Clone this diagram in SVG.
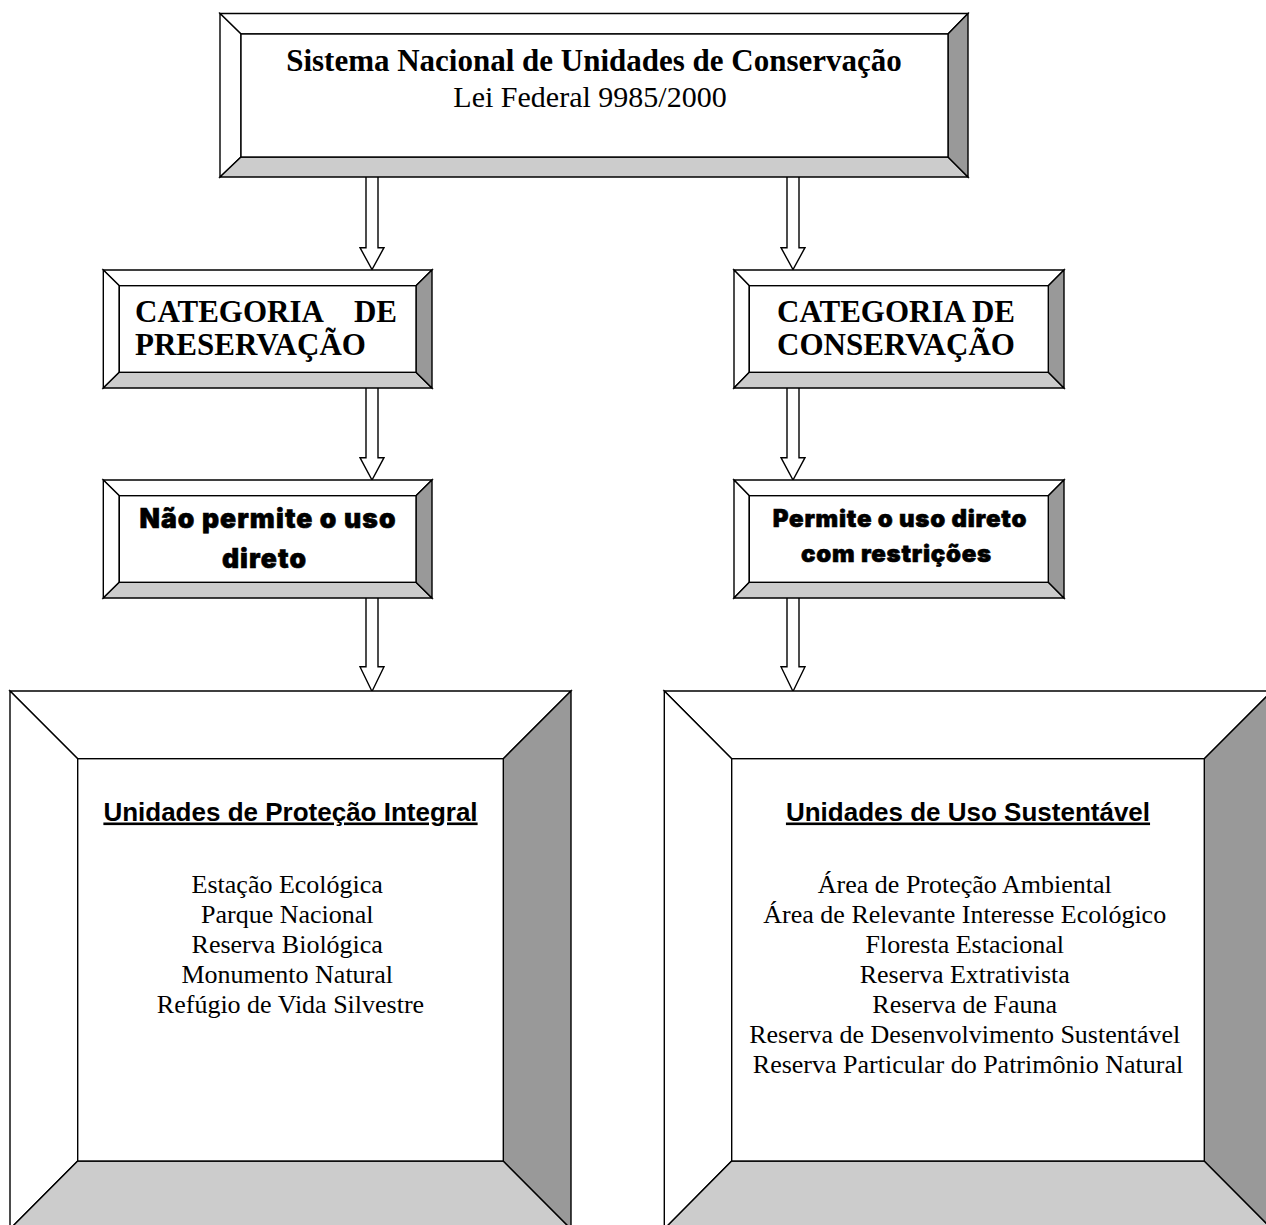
<svg xmlns="http://www.w3.org/2000/svg" width="1266" height="1225" viewBox="0 0 1266 1225">
<defs>
<style>
.ln{stroke:#000;stroke-width:1.4;stroke-linejoin:miter}
.w{fill:#fff}
.lg{fill:#cccccc}
.dg{fill:#999999}
.tb{font-family:'Liberation Serif','Times New Roman',serif;font-weight:bold;font-size:31px;fill:#000}
.tr{font-family:'Liberation Serif','Times New Roman',serif;font-size:30px;fill:#000}
.blk{font-family:'Arial Black','Inter','Roboto','Lato',sans-serif;font-weight:900;fill:#000;stroke:#000;stroke-width:0.6}
.hd{font-family:'Liberation Sans',Arial,sans-serif;font-weight:bold;font-size:26px;fill:#000;text-decoration:underline}
.it{font-family:'Liberation Serif','Times New Roman',serif;font-size:26px;fill:#000}
.arr{fill:#fff;stroke:#000;stroke-width:1.4;stroke-linejoin:miter}
</style>
</defs>
<rect width="1266" height="1225" fill="#fff"/>

<g id="connectors">
<path class="arr" d="M366,177 V247.7 H360 L372,269.5 L384,247.7 H378 V177"/>
<path class="arr" d="M787,177 V247.7 H781 L793,269.5 L805,247.7 H799 V177"/>
<path class="arr" d="M366,388 V457.7 H360 L372,480 L384,457.7 H378 V388"/>
<path class="arr" d="M787,388 V457.7 H781 L793,480 L805,457.7 H799 V388"/>
<path class="arr" d="M366,598 V666.7 H360 L372,691.5 L384,666.7 H378 V598"/>
<path class="arr" d="M787,598 V666.7 H781 L793,691.5 L805,666.7 H799 V598"/>
</g>

<g id="sistema">
<polygon class="ln w" points="220,13.5 968,13.5 948,34 241,34"/>
<polygon class="ln w" points="220,13.5 241,34 241,157 220,177"/>
<polygon class="ln lg" points="220,177 241,157 948,157 968,177"/>
<polygon class="ln dg" points="968,13.5 968,177 948,157 948,34"/>
<rect class="ln w" x="241" y="34" width="707" height="123"/>
<text class="tb" x="594" y="71" text-anchor="middle">Sistema Nacional de Unidades de Conservação</text>
<text class="tr" x="590" y="106.7" text-anchor="middle">Lei Federal 9985/2000</text>
</g>

<g id="cat-preservacao">
<polygon class="ln w" points="103.3,270 432,270 416,285.7 119.3,285.7"/>
<polygon class="ln w" points="103.3,270 119.3,285.7 119.3,372.3 103.3,388"/>
<polygon class="ln lg" points="103.3,388 119.3,372.3 416,372.3 432,388"/>
<polygon class="ln dg" points="432,270 432,388 416,372.3 416,285.7"/>
<rect class="ln w" x="119.3" y="285.7" width="296.7" height="86.6"/>
<text class="tb" y="321.7"><tspan x="135">CATEGORIA</tspan><tspan x="397" text-anchor="end">DE</tspan></text>
<text class="tb" x="135" y="355">PRESERVAÇÃO</text>
</g>

<g id="cat-conservacao">
<polygon class="ln w" points="734,270 1064,270 1048.3,285.7 749.3,285.7"/>
<polygon class="ln w" points="734,270 749.3,285.7 749.3,372.3 734,388"/>
<polygon class="ln lg" points="734,388 749.3,372.3 1048.3,372.3 1064,388"/>
<polygon class="ln dg" points="1064,270 1064,388 1048.3,372.3 1048.3,285.7"/>
<rect class="ln w" x="749.3" y="285.7" width="299" height="86.6"/>
<text class="tb" x="896" y="321.7" text-anchor="middle">CATEGORIA DE</text>
<text class="tb" x="896" y="355" text-anchor="middle">CONSERVAÇÃO</text>
</g>

<g id="nao-permite">
<polygon class="ln w" points="103.3,480 432,480 416,495.7 119.3,495.7"/>
<polygon class="ln w" points="103.3,480 119.3,495.7 119.3,582.3 103.3,598"/>
<polygon class="ln lg" points="103.3,598 119.3,582.3 416,582.3 432,598"/>
<polygon class="ln dg" points="432,480 432,598 416,582.3 416,495.7"/>
<rect class="ln w" x="119.3" y="495.7" width="296.7" height="86.6"/>
<text class="blk" font-size="26.5" letter-spacing="1.1" x="268" y="528.3" text-anchor="middle">Não permite o uso</text>
<text class="blk" font-size="26.5" letter-spacing="1.1" x="264.5" y="568.3" text-anchor="middle">direto</text>
</g>

<g id="permite">
<polygon class="ln w" points="734,480 1064,480 1048.3,495.7 749.3,495.7"/>
<polygon class="ln w" points="734,480 749.3,495.7 749.3,582.3 734,598"/>
<polygon class="ln lg" points="734,598 749.3,582.3 1048.3,582.3 1064,598"/>
<polygon class="ln dg" points="1064,480 1064,598 1048.3,582.3 1048.3,495.7"/>
<rect class="ln w" x="749.3" y="495.7" width="299" height="86.6"/>
<text class="blk" font-size="24" letter-spacing="0.75" x="900" y="527" text-anchor="middle">Permite o uso direto</text>
<text class="blk" font-size="24" letter-spacing="0.75" x="896.5" y="561.7" text-anchor="middle">com restrições</text>
</g>

<g id="protecao-integral">
<polygon class="ln w" points="10,691 571,691 503.3,758.7 77.7,758.7"/>
<polygon class="ln w" points="10,691 77.7,758.7 77.7,1161 10,1229"/>
<polygon class="ln lg" points="10,1229 77.7,1161 503.3,1161 571,1229"/>
<polygon class="ln dg" points="571,691 571,1229 503.3,1161 503.3,758.7"/>
<rect class="ln w" x="77.7" y="758.7" width="425.6" height="402.3"/>
<text class="hd" x="290.5" y="820.5" text-anchor="middle">Unidades de Proteção Integral</text>
<text class="it" text-anchor="middle">
<tspan x="290.5" y="892.5">Estação Ecológica</tspan>
<tspan x="290.5" y="922.7">Parque Nacional</tspan>
<tspan x="290.5" y="952.6">Reserva Biológica</tspan>
<tspan x="290.5" y="982.7">Monumento Natural</tspan>
<tspan x="290.5" y="1012.7">Refúgio de Vida Silvestre</tspan>
</text>
</g>

<g id="uso-sustentavel">
<polygon class="ln w" points="664.3,691 1272,691 1204.3,758.7 731.7,758.7"/>
<polygon class="ln w" points="664.3,691 731.7,758.7 731.7,1161 664.3,1229"/>
<polygon class="ln lg" points="664.3,1229 731.7,1161 1204.3,1161 1272,1229"/>
<polygon class="ln dg" points="1272,691 1272,1229 1204.3,1161 1204.3,758.7"/>
<rect class="ln w" x="731.7" y="758.7" width="472.6" height="402.3"/>
<text class="hd" x="968" y="820.5" text-anchor="middle">Unidades de Uso Sustentável</text>
<text class="it" text-anchor="middle">
<tspan x="968" y="892.7">Área de Proteção Ambiental</tspan>
<tspan x="968" y="922.9">Área de Relevante Interesse Ecológico</tspan>
<tspan x="968" y="952.8">Floresta Estacional</tspan>
<tspan x="968" y="982.9">Reserva Extrativista</tspan>
<tspan x="968" y="1012.8">Reserva de Fauna</tspan>
<tspan x="968" y="1043">Reserva de Desenvolvimento Sustentável</tspan>
<tspan x="968" y="1073.2">Reserva Particular do Patrimônio Natural</tspan>
</text>
</g>
</svg>
